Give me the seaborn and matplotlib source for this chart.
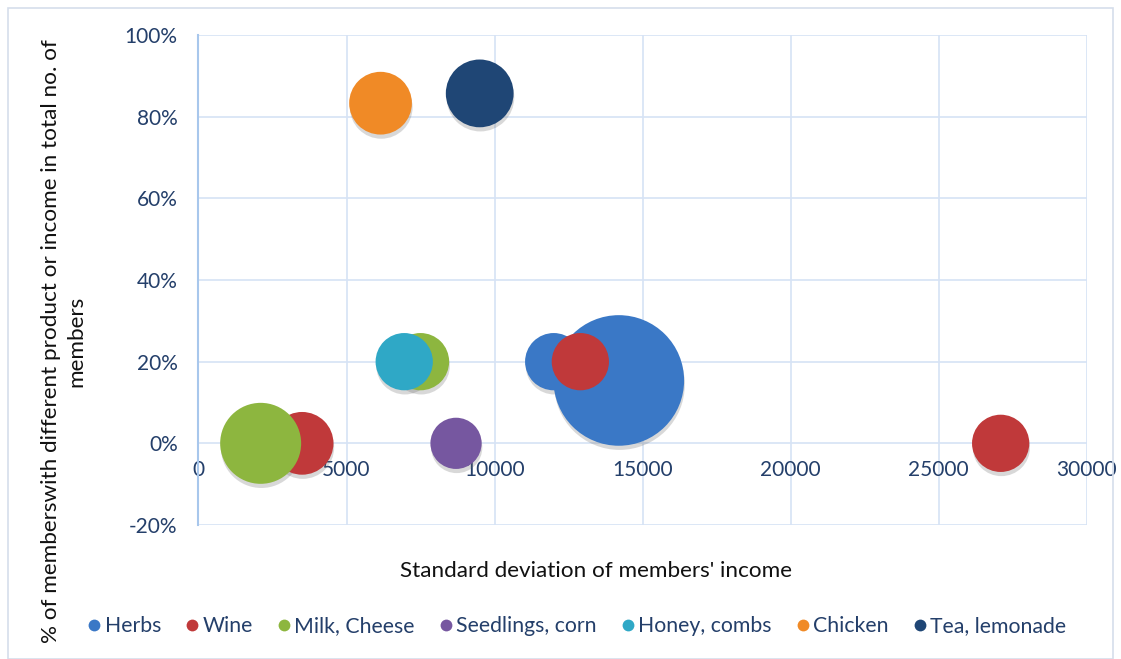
import numpy as np
import pandas as pd
import seaborn as sns
import matplotlib
matplotlib.use("Agg")
import matplotlib.pyplot as plt
import matplotlib.patheffects as pe
from matplotlib.lines import Line2D
from matplotlib.patches import Rectangle
from matplotlib.ticker import PercentFormatter

# ---- data ----
series = ["Herbs", "Herbs", "Wine", "Wine", "Wine", "Milk, Cheese", "Milk, Cheese",
          "Seedlings, corn", "Honey, combs", "Chicken", "Tea, lemonade"]
std_income = [14200, 12000, 3500, 12900, 27100, 2100, 7500, 8700, 6950, 6150, 9500]
share_members = [0.154, 0.20, 0.0, 0.20, 0.0, 0.0, 0.20, 0.0, 0.20, 0.833, 0.857]
bubble_size = [26, 5, 6, 5, 5, 10, 5, 4, 5, 6, 7]
legend_order = ["Herbs", "Wine", "Milk, Cheese", "Seedlings, corn", "Honey, combs",
                "Chicken", "Tea, lemonade"]
colors = ["#3A78C6", "#C0393A", "#8DB63F", "#7657A0", "#2FA8C6", "#F08A26", "#1F4675"]

df = pd.DataFrame({"series": series, "x": std_income, "y": share_members, "size": bubble_size})

sns.set_theme(style="white")
plt.rcParams["font.family"] = ["Lato", "DejaVu Sans"]
plt.rcParams["axes.unicode_minus"] = False

W, H = 1121, 659
fig = plt.figure(figsize=(W / 100, H / 100), dpi=100)
ax = fig.add_axes([198.5 / W, 1 - 525 / H, (1086.5 - 198.5) / W, (525 - 35) / H])

palette = dict(zip(legend_order, colors))
sns.scatterplot(data=df, x="x", y="y", hue="series", size="size",
                sizes=(0, 8840), size_norm=(0, 26), palette=palette,
                hue_order=legend_order, legend=False, linewidth=0,
                alpha=1, ax=ax, zorder=3)
for coll in ax.collections:
    coll.set_path_effects([pe.SimplePatchShadow(offset=(0.5, -3), shadow_rgbFace="#666666", alpha=0.25),
                           pe.Normal()])

ax.set_xlim(0, 30000)
ax.set_ylim(-0.2, 1.0)
ax.set_xticks(np.arange(0, 30001, 5000))
ax.set_yticks(np.arange(-0.2, 1.01, 0.2))
ax.yaxis.set_major_formatter(PercentFormatter(1.0, decimals=0))
ax.grid(True, color="#D6E3F5", linewidth=1.2)
ax.set_axisbelow(True)
for s in ["top", "right"]:
    ax.spines[s].set_visible(False)
ax.spines["left"].set_color("#A8C7EC")
ax.spines["left"].set_linewidth(1.5)
ax.spines["bottom"].set_position(("data", 0))
ax.spines["bottom"].set_visible(False)
lab_col = "#243F6A"
ax.tick_params(axis="x", length=0, pad=12, labelsize=15, labelcolor=lab_col)
ax.tick_params(axis="y", length=0, pad=15, labelsize=15, labelcolor=lab_col)
ax.set_xlabel("")
ax.set_ylabel("")

fig.text(596 / W, 1 - 571 / H, "Standard deviation of members' income",
         ha="center", va="center", fontsize=16.2, color="#111111")
fig.text(64 / W, 1 - 341 / H,
         "% of memberswith different product or income in total no. of\nmembers",
         ha="center", va="center", rotation=90, fontsize=16.2, color="#111111",
         linespacing=1.35)

handles = [Line2D([0], [0], marker="o", linestyle="", markersize=8.5,
                  markerfacecolor=c, markeredgewidth=0, label=l)
           for l, c in zip(legend_order, colors)]
fig.legend(handles=handles, loc="center", bbox_to_anchor=(575 / W, 1 - 626 / H), ncol=7,
           frameon=False, handletextpad=0.0, columnspacing=0.95, fontsize=15.3,
           labelcolor=lab_col, handlelength=1.0)

fig.patches.append(Rectangle((8 / W, 0), 1 - 8 / W - 8 / W, 1 - 8 / H - 0.0,
                             transform=fig.transFigure, fill=False,
                             edgecolor="#D5DEEB", linewidth=1.2))

fig.savefig("out.png", dpi=100)
